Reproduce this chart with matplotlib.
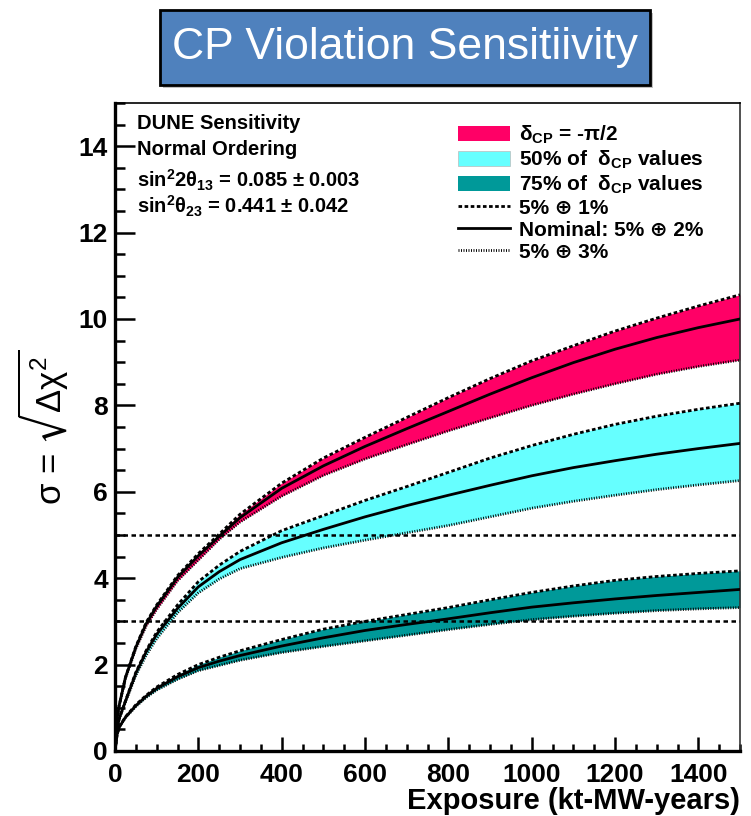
import matplotlib
matplotlib.use("Agg")
import matplotlib.pyplot as plt
from matplotlib.patches import Rectangle, Patch
from matplotlib.lines import Line2D
from matplotlib.ticker import MultipleLocator

plt.rcParams["font.family"] = ["Liberation Sans", "DejaVu Sans"]
plt.rcParams["font.weight"] = "bold"
plt.rcParams["mathtext.fontset"] = "custom"
plt.rcParams["mathtext.rm"] = "Liberation Sans:bold"
plt.rcParams["mathtext.bf"] = "Liberation Sans:bold"
plt.rcParams["mathtext.it"] = "Liberation Sans:bold"
plt.rcParams["mathtext.default"] = "regular"

# exposure grid (kt-MW-years) and sigma values
exposure = [0, 5, 10, 25, 50, 75, 100, 150, 200, 250, 300, 400, 500, 600,
            700, 800, 900, 1000, 1100, 1200, 1300, 1400, 1500]

# delta_CP = -pi/2
red_nom = [0, 0.75, 1.05, 1.7, 2.4, 2.95, 3.35, 4.02, 4.52, 4.97, 5.4, 6.08, 6.6, 7.05,
           7.46, 7.86, 8.26, 8.64, 8.99, 9.3, 9.57, 9.8, 10.0]
red_up = [0, 0.75, 1.05, 1.7, 2.42, 2.98, 3.38, 4.06, 4.57, 5.02, 5.48, 6.2, 6.78, 7.26,
          7.72, 8.18, 8.62, 9.03, 9.38, 9.72, 10.02, 10.3, 10.56]
red_lo = [0, 0.75, 1.05, 1.68, 2.37, 2.9, 3.28, 3.94, 4.42, 4.9, 5.3, 5.9, 6.38, 6.76,
          7.09, 7.41, 7.71, 8.0, 8.26, 8.5, 8.72, 8.9, 9.05]

# 50% of delta_CP values
cyan_nom = [0, 0.5, 0.75, 1.15, 1.8, 2.3, 2.7, 3.3, 3.8, 4.15, 4.43, 4.82, 5.13, 5.42,
            5.68, 5.92, 6.15, 6.37, 6.56, 6.72, 6.87, 7.0, 7.12]
cyan_up = [0, 0.5, 0.75, 1.16, 1.82, 2.33, 2.75, 3.38, 3.92, 4.3, 4.62, 5.1, 5.45, 5.8,
           6.12, 6.45, 6.78, 7.07, 7.33, 7.56, 7.75, 7.91, 8.05]
cyan_lo = [0, 0.5, 0.74, 1.13, 1.75, 2.22, 2.6, 3.2, 3.66, 3.98, 4.22, 4.48, 4.7, 4.88,
           5.05, 5.22, 5.42, 5.62, 5.78, 5.92, 6.05, 6.16, 6.26]

# 75% of delta_CP values
teal_nom = [0, 0.38, 0.55, 0.78, 1.05, 1.27, 1.45, 1.72, 1.93, 2.08, 2.21, 2.43, 2.62, 2.79,
            2.93, 3.06, 3.2, 3.33, 3.43, 3.52, 3.6, 3.67, 3.74]
teal_up = [0, 0.38, 0.55, 0.79, 1.07, 1.29, 1.48, 1.77, 2.0, 2.17, 2.32, 2.58, 2.82, 3.0,
           3.16, 3.32, 3.5, 3.67, 3.82, 3.95, 4.04, 4.11, 4.17]
teal_lo = [0, 0.38, 0.55, 0.77, 1.03, 1.24, 1.41, 1.66, 1.86, 1.98, 2.1, 2.28, 2.42, 2.55,
           2.68, 2.81, 2.93, 3.04, 3.12, 3.19, 3.25, 3.29, 3.32]

sigma_levels = [3, 5]

bands = [
    (red_up, red_nom, red_lo, "#ff0066"),
    (cyan_up, cyan_nom, cyan_lo, "#66ffff"),
    (teal_up, teal_nom, teal_lo, "#009999"),
]

DASH = (1.3, 0.9)
DOT = (0.35, 0.55)

fig = plt.figure(figsize=(7.51, 8.16), dpi=100)
ax = fig.add_axes([115 / 751, 65 / 816, 625 / 751, 648 / 816])

for up, nom, lo, col in bands:
    ax.fill_between(exposure, lo, up, color=col, linewidth=0, zorder=1)
    ax.plot(exposure, up, color="black", lw=2.0, dashes=DASH, zorder=3)
    ax.plot(exposure, lo, color="black", lw=2.0, dashes=DOT, zorder=3)
    ax.plot(exposure, nom, color="black", lw=2.0, zorder=4)

for s in sigma_levels:
    ax.axhline(s, color="black", lw=1.8, dashes=(1.8, 1.4), zorder=2)

ax.set_xlim(0, 1500)
ax.set_ylim(0, 15)
ax.xaxis.set_major_locator(MultipleLocator(200))
ax.xaxis.set_minor_locator(MultipleLocator(50))
ax.yaxis.set_major_locator(MultipleLocator(2))
ax.yaxis.set_minor_locator(MultipleLocator(0.5))
ax.tick_params(axis="both", which="both", direction="in", width=1.8, labelsize=19)
ax.tick_params(axis="y", which="major", length=14.5, pad=5)
ax.tick_params(axis="y", which="minor", length=7.2)
ax.tick_params(axis="x", which="major", length=10, pad=9)
ax.tick_params(axis="x", which="minor", length=5)
for lab in ax.get_xticklabels() + ax.get_yticklabels():
    lab.set_fontweight("bold")

ax.spines["left"].set_linewidth(2.4)
ax.spines["bottom"].set_linewidth(2.4)
ax.spines["top"].set_linewidth(1.2)
ax.spines["right"].set_linewidth(1.2)
ax.spines["right"].set_color("#333333")

ax.set_xlabel("Exposure (kt-MW-years)", fontsize=21, fontweight="bold", ha="right")
ax.xaxis.set_label_coords(1.0, -0.055)
ax.set_ylabel(r"$\sigma$ = $\sqrt{\Delta\chi^2}$", fontsize=25, fontweight="normal",
              math_fontfamily="dejavusans")
ax.yaxis.set_label_coords(-0.07, 0.5)

info = ["DUNE Sensitivity",
        "Normal Ordering",
        r"sin$^{2}$2$\theta_{13}$ = 0.085 $\pm$ 0.003",
        r"sin$^{2}$$\theta_{23}$ = 0.441 $\pm$ 0.042"]
info_y = [0.968, 0.928, 0.881, 0.841]
for t, yy in zip(info, info_y):
    ax.text(0.035, yy, t, transform=ax.transAxes, fontsize=14.5,
            fontweight="bold", va="center")

handles = [
    Patch(facecolor="#ff0066", edgecolor="none"),
    Patch(facecolor="#66ffff", edgecolor="#bbbbbb", linewidth=0.5),
    Patch(facecolor="#009999", edgecolor="none"),
    Line2D([], [], color="black", lw=2.0, dashes=DASH),
    Line2D([], [], color="black", lw=2.0),
    Line2D([], [], color="black", lw=2.0, dashes=DOT),
]
labels = [r"$\delta_{CP}$ = -$\pi$/2",
          r"50% of  $\delta_{CP}$ values",
          r"75% of  $\delta_{CP}$ values",
          "5% \u2295 1%",
          "Nominal: 5% \u2295 2%",
          "5% \u2295 3%"]
ax.legend(handles, labels, loc="upper left", bbox_to_anchor=(0.548, 0.968),
          frameon=False, handlelength=2.5, handleheight=0.8,
          handletextpad=0.45, labelspacing=0.13, borderpad=0, borderaxespad=0,
          prop={"weight": "bold", "size": 15})

# title box
fig.patches.append(Rectangle((163 / 751, 1 - 88 / 816), 490 / 751, 75 / 816,
                             transform=fig.transFigure, facecolor="#999999",
                             edgecolor="none", alpha=0.6, zorder=0))
fig.patches.append(Rectangle((160 / 751, 1 - 85 / 816), 490 / 751, 75 / 816,
                             transform=fig.transFigure, facecolor="#4f81bd",
                             edgecolor="black", linewidth=2, zorder=1))
fig.text(405 / 751, 1 - 48 / 816, "CP Violation Sensitiivity", color="white",
         fontsize=32, fontweight="normal", ha="center", va="center", zorder=2)

fig.savefig("out.png", dpi=100)
